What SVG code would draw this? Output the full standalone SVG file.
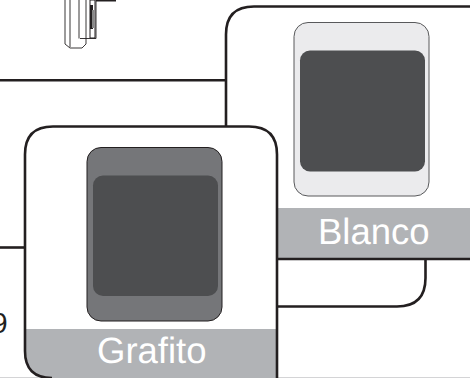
<svg xmlns="http://www.w3.org/2000/svg" width="470" height="378" viewBox="0 0 470 378">
<style>
.c{fill:none;stroke:#231f20;stroke-width:2.6}
.d{fill:none;stroke:#231f20;stroke-width:.9}
.band{fill:#b1b3b6}
.screen{fill:#4d4e50}
.t{font-family:"Liberation Sans",Arial,sans-serif;font-size:36.500px;fill:#fff;text-rendering:geometricPrecision}
</style>
<rect width="470" height="378" fill="#fff"/>
<rect y="377" width="470" height="1" fill="#d4d4d6"/>
<g id="device">
<path class="d" d="M65 0V44L70 48H82L86 44V38.500H96V0"/>
<path class="d" d="M70 0V47M79 0V38.500M86 38.500V0M80 38.500H86"/>
<path d="M90 0h5v38h-5z" fill="#fff" stroke="#231f20"/>
<path d="M90 5h3v24h-3z" fill="#231f20"/>
<path d="M96 0h20v1.500H96z" fill="#231f20"/>
<path d="M92 10h2v18h-2z" fill="#888"/>
</g>
<g id="connectors">
<path class="c" d="M0 80.300H226"/>
<path class="c" d="M0 247.500H25"/>
<path class="c" d="M425.500 259V278Q425.500 306.500 397 306.500H278"/>
</g>
<g id="blanco">
<path d="M278 208H470V259H278Z" class="band"/>
<path class="c" d="M470 6.500H254Q226 6.500 226 34.500V127"/>
<path class="c" d="M278 259H470"/>
<rect x="294" y="22.500" width="135" height="173.500" rx="14" fill="#ebebed" stroke="#58595b" stroke-width="1"/>
<rect x="300" y="50.500" width="125" height="121" rx="10" class="screen"/>
<text class="t" x="318" y="244">Blanco</text>
</g>
<g id="grafito">
<path d="M26 329H277V378H52Q26 378 26 352Z" class="band"/>
<path class="c" d="M52 378Q25 378 25 351V154.500Q25 126.500 53 126.500H249Q277 126.500 277 154.500V378"/>
<rect x="87" y="147.500" width="135" height="173.500" rx="14" fill="#757679" stroke="#231f20" stroke-width="1"/>
<rect x="93" y="175.500" width="125" height="120.500" rx="10" class="screen"/>
<text class="t" x="97" y="363">Grafito</text>
</g>
<text x="-8.500" y="333" font-family="Liberation Sans,Arial,sans-serif" font-size="29" fill="#231f20">9</text>
</svg>
